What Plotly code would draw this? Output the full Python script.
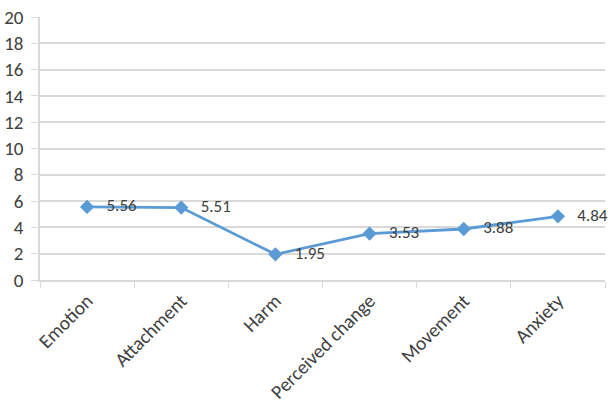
import plotly.graph_objects as go

categories = ["Emotion", "Attachment", "Harm", "Perceived change", "Movement", "Anxiety"]
values = [5.56, 5.51, 1.95, 3.53, 3.88, 4.84]
y_ticks = list(range(0, 21, 2))

line_color = "#5B9BD5"
grid_color = "#D9D9D9"
font_family = "Carlito, Calibri, Lato, sans-serif"

fig = go.Figure()
fig.add_trace(go.Scatter(
    x=categories, y=values,
    mode="lines+markers+text",
    line=dict(color=line_color, width=2.8),
    marker=dict(symbol="diamond", size=11, color=line_color),
    text=[f"   {v:.2f}" for v in values],
    textposition="middle right",
    textfont=dict(family=font_family, size=17, color="#404040"),
    cliponaxis=False,
    showlegend=False,
))

fig.update_layout(
    width=608, height=411,
    margin=dict(l=40, r=3, t=17, b=131),
    plot_bgcolor="white", paper_bgcolor="white",
    font=dict(family=font_family, color="#404040"),
    xaxis=dict(
        type="category", range=[-0.5, 5.5],
        tickangle=-45, tickson="boundaries",
        ticks="outside", ticklen=6, tickcolor=grid_color,
        showline=True, linecolor=grid_color, linewidth=1.5,
        showgrid=False, automargin=False,
        tickfont=dict(size=19.5, color="#404040"),
    ),
    yaxis=dict(
        range=[0, 20], tickvals=y_ticks,
        ticks="outside", ticklen=7, tickcolor=grid_color,
        showline=True, linecolor=grid_color, linewidth=1.5,
        gridcolor=grid_color, gridwidth=1.5,
        zeroline=False, automargin=False,
        tickfont=dict(size=19, color="#404040"),
        ticklabelstandoff=4,
    ),
)

fig.write_html("out.html")
